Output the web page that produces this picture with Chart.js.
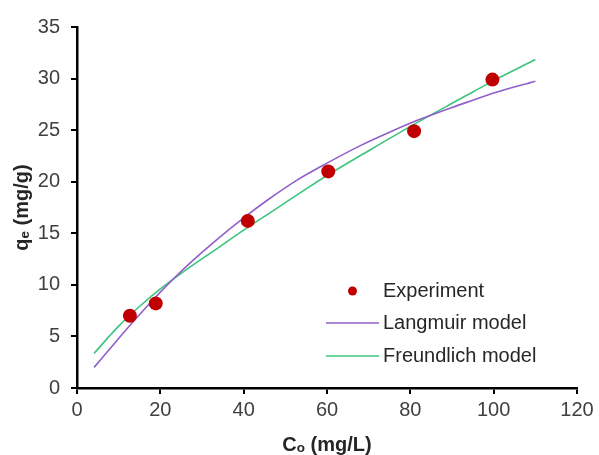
<!DOCTYPE html>
<html>
<head>
<meta charset="utf-8">
<script src="https://cdn.jsdelivr.net/npm/chart.js@4.4.1/dist/chart.umd.min.js"></script>
<style>
  html, body { margin: 0; padding: 0; background: #ffffff; }
  #wrap { width: 599px; height: 455px; }
</style>
</head>
<body>
<div id="wrap"><canvas id="c" width="599" height="455"></canvas></div>
<script>
// ---- data ----
const expX = [12.7, 18.9, 41.0, 60.3, 80.9, 99.7];
const expY = [7.0, 8.2, 16.2, 21.0, 24.9, 29.9];

const langX = [4.1, 10, 13, 17, 20, 26, 33, 40, 46, 53, 60, 68, 75, 82, 90, 95, 100, 110];
const langY = [2.0, 4.8, 6.2, 8.0, 9.3, 11.7, 14.2, 16.5, 18.3, 20.2, 21.8, 23.5, 24.8, 26.0, 27.2, 27.9, 28.6, 29.75];

const freX = [4.1, 10, 15, 20, 26, 33, 40, 47.5, 55, 60, 70, 81.5, 90, 95, 100, 110];
const freY = [3.36, 6.0, 7.9, 9.6, 11.4, 13.35, 15.3, 17.3, 19.3, 20.6, 23.0, 25.7, 27.6, 28.7, 29.8, 31.85];

const seriesNames = ['Experiment', 'Langmuir model', 'Freundlich model'];
const xTitle = 'C\u2092 (mg/L)';
const yTitle = 'q\u2091 (mg/g)';

const toPts = (xs, ys) => xs.map((x, i) => ({ x: x, y: ys[i] }));

const FONT = "'Liberation Sans', Arial, sans-serif";

// legend drawn inside the plot area, as in the reference
const insideLegend = {
  id: 'insideLegend',
  afterDraw(chart) {
    const ctx = chart.ctx;
    const a = chart.chartArea;
    const ds = chart.data.datasets;
    const lineX0 = a.left + 249, lineX1 = a.left + 302, textX = a.left + 306;
    const rows = [a.top + 264, a.top + 296, a.top + 329];
    ctx.save();
    ctx.font = '20px ' + FONT;
    ctx.textBaseline = 'middle';
    ctx.textAlign = 'left';
    ds.forEach((d, i) => {
      const y = rows[i];
      if (i === 0) {
        ctx.fillStyle = d.backgroundColor;
        ctx.beginPath();
        ctx.arc((lineX0 + lineX1) / 2, y, 4.5, 0, Math.PI * 2);
        ctx.fill();
      } else {
        ctx.strokeStyle = d.borderColor;
        ctx.lineWidth = 1.6;
        ctx.beginPath();
        ctx.moveTo(lineX0, y);
        ctx.lineTo(lineX1, y);
        ctx.stroke();
      }
      ctx.fillStyle = '#262626';
      ctx.fillText(d.label, textX, y);
    });
    ctx.restore();
  }
};

new Chart(document.getElementById('c'), {
  type: 'scatter',
  data: {
    datasets: [
      {
        label: seriesNames[0],
        data: toPts(expX, expY),
        backgroundColor: '#c00000',
        borderColor: '#c00000',
        pointRadius: 7,
        pointBorderWidth: 0,
        showLine: false
      },
      {
        label: seriesNames[1],
        data: toPts(langX, langY),
        borderColor: '#9060c8',
        backgroundColor: '#9060c8',
        borderWidth: 1.6,
        pointRadius: 0,
        showLine: true,
        cubicInterpolationMode: 'monotone'
      },
      {
        label: seriesNames[2],
        data: toPts(freX, freY),
        borderColor: '#3cc47c',
        backgroundColor: '#3cc47c',
        borderWidth: 1.6,
        pointRadius: 0,
        showLine: true,
        cubicInterpolationMode: 'monotone'
      }
    ]
  },
  options: {
    responsive: false,
    animation: false,
    devicePixelRatio: 1,
    layout: { padding: { left: 0, right: 22, top: 27, bottom: 0 } },
    plugins: {
      legend: { display: false },
      tooltip: { enabled: false }
    },
    scales: {
      x: {
        type: 'linear',
        min: 0, max: 120,
        afterFit(s) { s.height = 67; },
        ticks: { stepSize: 20, color: '#404040', font: { family: FONT, size: 20 }, padding: 4, maxRotation: 0 },
        grid: { drawOnChartArea: false, drawTicks: true, tickLength: 6, color: '#000000', lineWidth: 2 },
        border: { display: true, color: '#000000', width: 2.5 },
        title: { display: true, text: xTitle, color: '#262626', font: { family: FONT, size: 20, weight: 'bold', lineHeight: 1.0 }, padding: { top: 0, bottom: 0 } }
      },
      y: {
        type: 'linear',
        min: 0, max: 35,
        afterFit(s) { s.width = 77; },
        ticks: { stepSize: 5, color: '#404040', font: { family: FONT, size: 20 }, padding: 11 },
        grid: { drawOnChartArea: false, drawTicks: true, tickLength: 6, color: '#000000', lineWidth: 2 },
        border: { display: true, color: '#000000', width: 2.5 },
        title: { display: true, text: yTitle, color: '#262626', font: { family: FONT, size: 20, weight: 'bold', lineHeight: 1.2 }, padding: { top: 10, bottom: 0 } }
      }
    }
  },
  plugins: [insideLegend]
});
</script>
</body>
</html>
